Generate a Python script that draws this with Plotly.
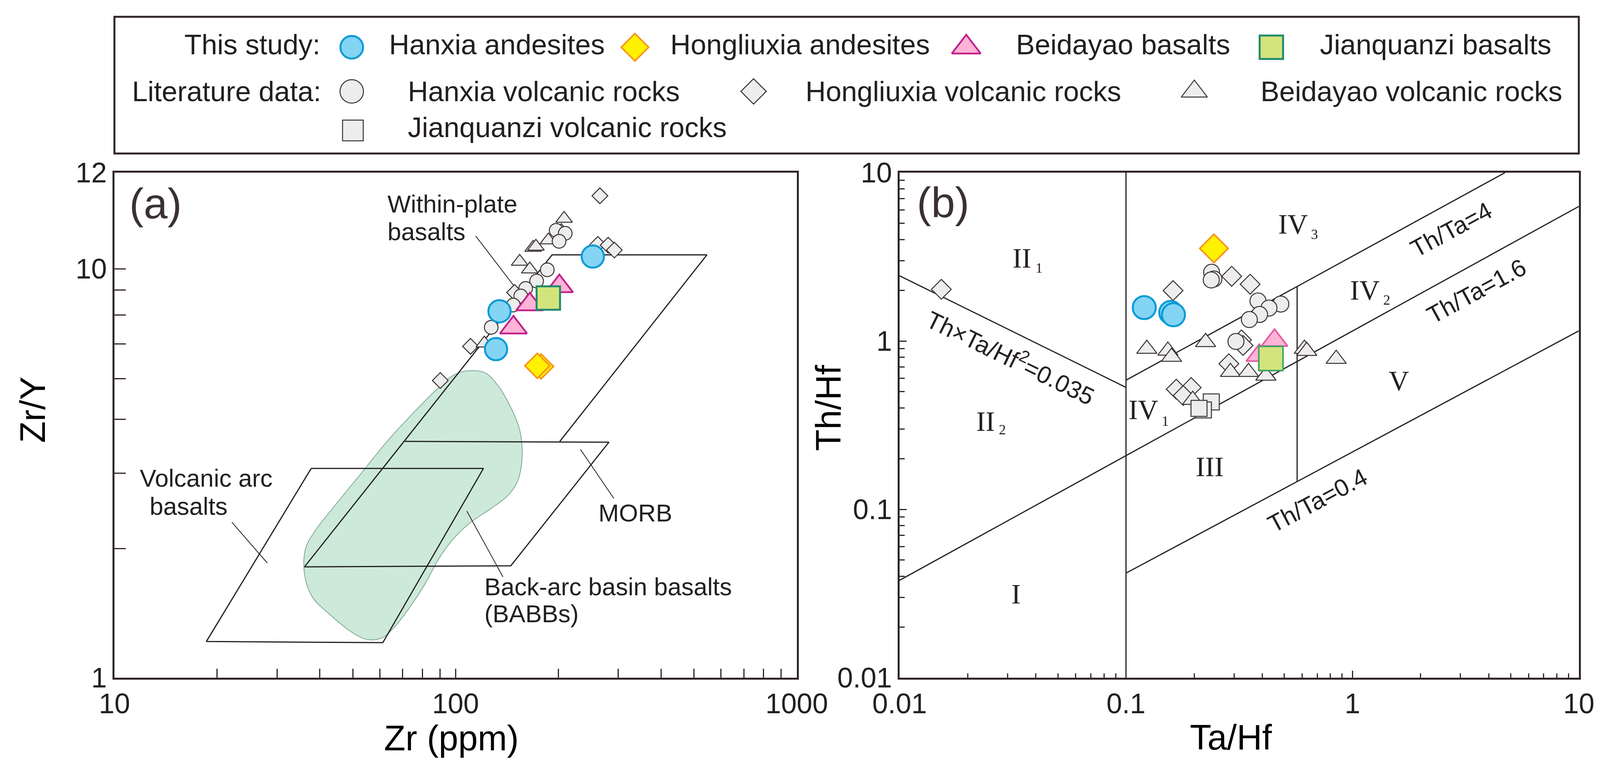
import plotly.graph_objects as go

W, H = 4153, 1979
SANS = "Liberation Sans, Arial, sans-serif"
SERIF = "Liberation Serif, Times New Roman, serif"
TXT = "#231f20"
FRAME = "#2e2624"

# ---------------- Panel (a): Zr (ppm) vs Zr/Y ----------------
a_hanxia_andesites_zr = [252.5, 134.5, 131.4]
a_hanxia_andesites_zry = [10.71, 7.87, 6.36]
a_hongliuxia_andesites_zr = [178.1, 173.6]
a_hongliuxia_andesites_zry = [5.77, 5.79]
a_beidayao_basalts_zr = [201.5, 165.0, 147.8]
a_beidayao_basalts_zry = [9.06, 8.18, 7.18]
a_jianquanzi_basalts_zr = [187.0]
a_jianquanzi_basalts_zry = [8.48]
a_hanxia_volc_zr = [197.2, 209.6, 201.1, 185.7, 172.8, 160.5, 155.3, 147.6, 127.2]
a_hanxia_volc_zry = [12.41, 12.21, 11.67, 9.94, 9.33, 8.95, 8.58, 8.15, 7.19]
a_hongliuxia_volc_zr = [264.9, 261.2, 280.0, 292.0, 148.9, 110.6, 90.2]
a_hongliuxia_volc_zry = [15.08, 11.47, 11.42, 11.11, 8.75, 6.46, 5.33]
a_beidayao_volc_zr = [208.0, 204.2, 187.0, 168.8, 172.0, 154.1, 165.0, 121.4]
a_beidayao_volc_zry = [13.26, 12.38, 11.74, 11.26, 11.33, 10.41, 9.97, 6.57]

# field boundaries (Zr, Zr/Y)
a_wpb_zr = [36.06, 191.8, 545.3, 202.1]
a_wpb_zry = [1.866, 10.81, 10.81, 3.783]
a_morb_zr = [71.1, 281.5, 145.2, 36.06]
a_morb_zry = [3.783, 3.766, 1.878, 1.866]
a_vab_zr = [37.73, 120.7, 61.2, 18.6, 37.73]
a_vab_zry = [3.248, 3.248, 1.218, 1.226, 3.248]
a_babb_zr = [108.0, 122.0, 133.1, 145.2, 154.0, 156.8, 151.9, 142.7, 126.3, 109.9,
             97.3, 89.2, 81.7, 73.6, 66.3, 60.8, 55.1, 49.3, 42.9, 38.0,
             36.1, 36.3, 38.7, 44.4, 52.9, 63.0, 74.9, 89.2, 99.0, 108.0]
a_babb_zry = [5.628, 5.566, 5.18, 4.578, 4.047, 3.498, 3.022, 2.795, 2.584, 2.388,
              2.159, 1.951, 1.706, 1.491, 1.332, 1.251, 1.240, 1.297, 1.425, 1.577,
              1.784, 2.064, 2.283, 2.642, 3.162, 3.783, 4.426, 5.123, 5.503, 5.628]
# leader lines
a_leader_wpb = ([114.6, 149.6], [12.02, 8.99])
a_leader_vab = ([22.1, 28.05], [2.399, 1.908])
a_leader_morb = ([232.2, 291.0], [3.617, 2.745])
a_leader_babb = ([107.9, 137.7], [2.555, 1.764])

a_x_ticks = [10, 100, 1000]
a_x_ticktext = ["10", "100", "1000"]
a_x_minor = [20, 30, 40, 50, 60, 70, 80, 90, 200, 300, 400, 500, 600, 700, 800, 900]
a_y_top = 17.18
a_y_ticks = [1, 10, a_y_top]
a_y_ticktext = ["1", "10", "12"]
a_y_minor = [2.07, 3.16, 4.28, 5.39, 6.55, 7.7, 8.88]

# ---------------- Panel (b): Ta/Hf vs Th/Hf ----------------
b_hanxia_andesites_ta = [0.1204, 0.1576, 0.162]
b_hanxia_andesites_th = [1.579, 1.476, 1.432]
b_hongliuxia_andesites_ta = [0.2446]
b_hongliuxia_andesites_th = [3.547]
b_beidayao_basalts_ta = [0.3878, 0.4529]
b_beidayao_basalts_th = [0.8201, 1.0085]
b_jianquanzi_basalts_ta = [0.4365]
b_jianquanzi_basalts_th = [0.787]
b_hanxia_volc_ta = [0.2388, 0.2446, 0.238, 0.3828, 0.4829, 0.428, 0.389, 0.3506, 0.306]
b_hanxia_volc_th = [2.559, 2.336, 2.305, 1.73, 1.657, 1.569, 1.438, 1.341, 0.994]
b_hongliuxia_volc_ta = [0.01529, 0.1614, 0.2930, 0.3534, 0.3236, 0.3289, 0.2847, 0.1667, 0.194, 0.179]
b_hongliuxia_volc_th = [2.028, 1.993, 2.424, 2.175, 1.015, 0.941, 0.7325, 0.5172, 0.529, 0.474]
b_beidayao_volc_ta = [0.1236, 0.1531, 0.1589, 0.2247, 0.2893, 0.3477, 0.4147, 0.197, 0.6136, 0.6286, 0.848]
b_beidayao_volc_th = [0.897, 0.875, 0.8045, 0.9847, 0.654, 0.654, 0.622, 0.4461, 0.897, 0.872, 0.782]
b_jianquanzi_volc_ta = [0.2380, 0.2197, 0.2101]
b_jianquanzi_volc_th = [0.4346, 0.3897, 0.398]

# discrimination lines (Ta/Hf, Th/Hf)
b_lines = [
    ([0.01, 0.1], [2.44, 0.53]),      # Th x Ta/Hf^2 = 0.035
    ([0.1, 4.72], [0.585, 10.0]),     # Th/Ta = 4
    ([0.01, 10.0], [0.0379, 6.30]),   # Th/Ta = 1.6
    ([0.1, 10.0], [0.0418, 1.148]),   # Th/Ta = 0.4
    ([0.1, 0.1], [0.01, 10.0]),       # Ta/Hf = 0.1
    ([0.57, 0.57], [0.146, 2.11]),    # boundary III / V
]
b_ticks = [0.01, 0.1, 1, 10]
b_ticktext = ["0.01", "0.1", "1", "10"]
b_y_ticks = [0.01, 0.1, 1, 10]

# ---------------- styles ----------------
def px(x):
    return x / W

def py(y):
    return 1 - y / H

S_BLUE = dict(symbol="circle", color="#84d4f4", line=dict(color="#0a9ad6", width=5))
S_YEL = dict(symbol="diamond", color="#fff200", line=dict(color="#f7941d", width=4))
S_PINK_A = dict(symbol="triangle-up", color="#ffb3d6", line=dict(color="#c0208a", width=4.5))
S_PINK_B = dict(symbol="triangle-up", color="#ffb3d6", line=dict(color="#e25aa0", width=4))
S_GREEN_A = dict(symbol="square", color="#d4e47c", line=dict(color="#1f8a70", width=5))
S_GREEN_B = dict(symbol="square", color="#d4e47c", line=dict(color="#3aa36a", width=4))
GREY_LINE = dict(color="#3a3230", width=2.5)
S_GC = dict(symbol="circle", color="#ededed", line=GREY_LINE)
S_GD = dict(symbol="diamond", color="#ededed", line=GREY_LINE)
S_GT = dict(symbol="triangle-up", color="#ededed", line=GREY_LINE)
S_GS = dict(symbol="square", color="#ededed", line=GREY_LINE)

fig = go.Figure()

def pts(x, y, style, size, xa, ya, name):
    m = dict(style)
    m["size"] = size
    fig.add_trace(go.Scatter(x=x, y=y, mode="markers", marker=m, name=name,
                             xaxis=xa, yaxis=ya, showlegend=False, hoverinfo="x+y+name"))

def line(x, y, xa, ya, width=3, color=TXT):
    fig.add_trace(go.Scatter(x=x, y=y, mode="lines", line=dict(color=color, width=width),
                             xaxis=xa, yaxis=ya, showlegend=False, hoverinfo="skip"))

# panel a fields
fig.add_trace(go.Scatter(x=a_babb_zr, y=a_babb_zry, mode="lines", fill="toself",
                         fillcolor="#cde9da", line=dict(color="#7fa893", width=2, shape="spline"),
                         xaxis="x", yaxis="y", showlegend=False, hoverinfo="skip"))
line(a_wpb_zr, a_wpb_zry, "x", "y")
line(a_morb_zr, a_morb_zry, "x", "y")
line(a_vab_zr, a_vab_zry, "x", "y")
for lx, ly in [a_leader_wpb, a_leader_vab, a_leader_morb, a_leader_babb]:
    line(lx, ly, "x", "y", width=2)

# panel a points
pts(a_hongliuxia_volc_zr, a_hongliuxia_volc_zry, S_GD, 31, "x", "y", "Hongliuxia volcanic rocks")
pts(a_beidayao_volc_zr, a_beidayao_volc_zry, S_GT, 37, "x", "y", "Beidayao volcanic rocks")
pts(a_hanxia_volc_zr, a_hanxia_volc_zry, S_GC, 35, "x", "y", "Hanxia volcanic rocks")
pts(a_hanxia_andesites_zr, a_hanxia_andesites_zry, S_BLUE, 57, "x", "y", "Hanxia andesites")
pts(a_hongliuxia_andesites_zr, a_hongliuxia_andesites_zry, S_YEL, 49, "x", "y", "Hongliuxia andesites")
pts(a_beidayao_basalts_zr, a_beidayao_basalts_zry, S_PINK_A, 60, "x", "y", "Beidayao basalts")
pts(a_jianquanzi_basalts_zr, a_jianquanzi_basalts_zry, S_GREEN_A, 60, "x", "y", "Jianquanzi basalts")

# panel b lines
for lx, ly in b_lines:
    line(lx, ly, "x2", "y2")

# panel b points
pts(b_hongliuxia_volc_ta, b_hongliuxia_volc_th, S_GD, 39, "x2", "y2", "Hongliuxia volcanic rocks")
pts(b_beidayao_volc_ta, b_beidayao_volc_th, S_GT, 45, "x2", "y2", "Beidayao volcanic rocks")
pts(b_jianquanzi_volc_ta, b_jianquanzi_volc_th, S_GS, 41, "x2", "y2", "Jianquanzi volcanic rocks")
pts(b_hanxia_volc_ta, b_hanxia_volc_th, S_GC, 41, "x2", "y2", "Hanxia volcanic rocks")
pts(b_hanxia_andesites_ta, b_hanxia_andesites_th, S_BLUE, 59, "x2", "y2", "Hanxia andesites")
pts(b_hongliuxia_andesites_ta, b_hongliuxia_andesites_th, S_YEL, 56, "x2", "y2", "Hongliuxia andesites")
pts(b_beidayao_basalts_ta, b_beidayao_basalts_th, S_PINK_B, 58, "x2", "y2", "Beidayao basalts")
pts(b_jianquanzi_basalts_ta, b_jianquanzi_basalts_th, S_GREEN_B, 62, "x2", "y2", "Jianquanzi basalts")

# ---------------- legend (drawn in a pixel-space overlay axis) ----------------
legend_rows = [
    # (label, style, size, marker_x, text_x, marker_y, text_y)
    ("Hanxia andesites", S_BLUE, 58, 913, 1008, 121, 114),
    ("Hongliuxia andesites", S_YEL, 54, 1648, 1738, 121, 114),
    ("Beidayao basalts", S_PINK_A, 64, 2508, 2635, 121, 114),
    ("Jianquanzi basalts", S_GREEN_A, 60, 3300, 3424, 121, 114),
    ("Hanxia volcanic rocks", S_GC, 60, 913, 1056, 234, 234),
    ("Hongliuxia volcanic rocks", S_GD, 50, 1956, 2089, 234, 234),
    ("Beidayao volcanic rocks", S_GT, 58, 3100, 3270, 234, 234),
    ("Jianquanzi volcanic rocks", S_GS, 53, 916, 1056, 334, 326),
]
annotations = []
for label, style, size, mx, tx, my, ty in legend_rows:
    m = dict(style)
    m["size"] = size
    fig.add_trace(go.Scatter(x=[mx], y=[my], mode="markers", marker=m, xaxis="x3", yaxis="y3",
                             showlegend=False, hoverinfo="skip", cliponaxis=False))
    annotations.append(dict(x=px(tx), y=py(ty), xref="paper", yref="paper", text=label,
                            showarrow=False, xanchor="left", yanchor="middle",
                            font=dict(family=SANS, size=72, color=TXT)))
annotations.append(dict(x=px(833), y=py(114), xref="paper", yref="paper", text="This study:",
                        showarrow=False, xanchor="right", yanchor="middle",
                        font=dict(family=SANS, size=72, color=TXT)))
annotations.append(dict(x=px(835), y=py(234), xref="paper", yref="paper", text="Literature data:",
                        showarrow=False, xanchor="right", yanchor="middle",
                        font=dict(family=SANS, size=72, color=TXT)))

def note(text, x, y, size=63, family=SANS, xanchor="left", angle=0, color=TXT):
    annotations.append(dict(x=px(x), y=py(y), xref="paper", yref="paper", text=text,
                            showarrow=False, xanchor=xanchor, yanchor="middle", textangle=angle,
                            font=dict(family=family, size=size, color=color)))

# panel labels
note("(a)", 404, 520, size=110, xanchor="center", color="#3a3230")
note("(b)", 2448, 517, size=110, xanchor="center", color="#3a3230")
# panel a field labels
note("Within-plate", 1004, 522)
note("basalts", 1004, 593)
note("Volcanic arc", 361, 1224)
note("basalts", 386, 1296)
note("MORB", 1551, 1313)
note("Back-arc basin basalts", 1255, 1502)
note("(BABBs)", 1255, 1571)
# axis titles
note("Zr (ppm)", 1172, 1890, size=90, xanchor="center", color="#000000")
note("Ta/Hf", 3195, 1888, size=90, xanchor="center", color="#000000")
note("Zr/Y", 85, 1049, size=90, xanchor="center", angle=-90, color="#000000")
note("Th/Hf", 2151, 1044, size=90, xanchor="center", angle=-90, color="#000000")

# panel b region labels (numeral, centre x, centre y) and subscripts (digit, left x, centre y)
b_regions = [("II", 2652, 661), ("II", 2558, 1079), ("IV", 3356, 574), ("IV", 3543, 743),
             ("IV", 2968, 1049), ("III", 3140, 1195), ("V", 3631, 975), ("I", 2637, 1521)]
b_region_subs = [("1", 2686, 686), ("2", 2591, 1100), ("3", 3401, 600), ("2", 3588, 768),
                 ("1", 3013, 1078)]
for t, x, y in b_regions:
    note(t, x, y, size=72, family=SERIF, xanchor="center")
for t, x, y in b_region_subs:
    note(t, x, y, size=36, family=SERIF)

# line labels
note("Th×Ta/Hf<sup>2</sup>=0.035", 2625, 913, size=62, xanchor="center", angle=26)
note("Th/Ta=4", 3767, 587, size=62, xanchor="center", angle=-28.4)
note("Th/Ta=1.6", 3832, 745, size=62, xanchor="center", angle=-28.5)
note("Th/Ta=0.4", 3419, 1281, size=62, xanchor="center", angle=-28)

# ---------------- axes ----------------
YDOM = [1 - 1735 / H, 1 - 442 / H]
base_axis = dict(type="log", showgrid=False, zeroline=False, showline=True, mirror=True,
                 linecolor=FRAME, linewidth=5, ticks="inside", tickcolor=FRAME, tickwidth=3,
                 tickfont=dict(family=SANS, size=72, color=TXT), automargin=False,
                 tickmode="array", fixedrange=True)

xaxis = dict(base_axis, domain=[297 / W, 2068 / W], range=[1, 3], anchor="y",
             tickvals=a_x_ticks, ticktext=a_x_ticktext, ticklen=23,
             minor=dict(tickmode="array", tickvals=a_x_minor, ticks="inside", ticklen=23,
                        tickwidth=3, tickcolor=FRAME, showgrid=False))
yaxis = dict(base_axis, domain=YDOM, range=[0, 1.235], anchor="x",
             tickvals=a_y_ticks, ticktext=a_y_ticktext, ticklen=29,
             minor=dict(tickmode="array", tickvals=a_y_minor, ticks="inside", ticklen=29,
                        tickwidth=3, tickcolor=FRAME, showgrid=False))
b_minor = [m * 10 ** e for e in (-2, -1, 0) for m in range(2, 10)]
xaxis2 = dict(base_axis, domain=[2335 / W, 4098 / W], range=[-2, 1], anchor="y2",
              tickvals=b_ticks, ticktext=b_ticktext, ticklen=18,
              minor=dict(tickmode="array", tickvals=b_minor, ticks="inside", ticklen=11,
                         tickwidth=3, tickcolor=FRAME, showgrid=False))
yaxis2 = dict(base_axis, domain=YDOM, range=[-2, 1], anchor="x2",
              tickvals=b_y_ticks, ticktext=b_ticktext, ticklen=18,
              minor=dict(tickmode="array", tickvals=b_minor, ticks="inside", ticklen=13,
                         tickwidth=3, tickcolor=FRAME, showgrid=False))
xaxis3 = dict(domain=[0, 1], range=[0, W], visible=False, anchor="y3", fixedrange=True)
yaxis3 = dict(domain=[0, 1], range=[H, 0], visible=False, anchor="x3", fixedrange=True)

fig.update_layout(
    width=W, height=H, autosize=False, template="none",
    margin=dict(l=0, r=0, t=0, b=0, pad=0),
    paper_bgcolor="white", plot_bgcolor="rgba(0,0,0,0)",
    showlegend=False,
    xaxis=xaxis, yaxis=yaxis, xaxis2=xaxis2, yaxis2=yaxis2, xaxis3=xaxis3, yaxis3=yaxis3,
    annotations=annotations,
    shapes=[dict(type="rect", xref="paper", yref="paper", x0=px(297), x1=px(4098),
                 y0=py(393), y1=py(43), line=dict(color=FRAME, width=5), layer="below")],
)

# remove the page margin / scrollbars and fit the figure exactly to the window
POST = """
document.documentElement.style.margin = '0';
document.documentElement.style.padding = '0';
document.documentElement.style.overflow = 'hidden';
document.body.style.margin = '0';
document.body.style.padding = '0';
document.body.style.overflow = 'hidden';
var gd = document.getElementById('{plot_id}');
var w = window.innerWidth, h = window.innerHeight;
gd.style.width = w + 'px';
gd.style.height = h + 'px';
return Plotly.relayout(gd, {width: w, height: h});
"""

fig.write_html("out.html", post_script=POST, config={"displayModeBar": False})
